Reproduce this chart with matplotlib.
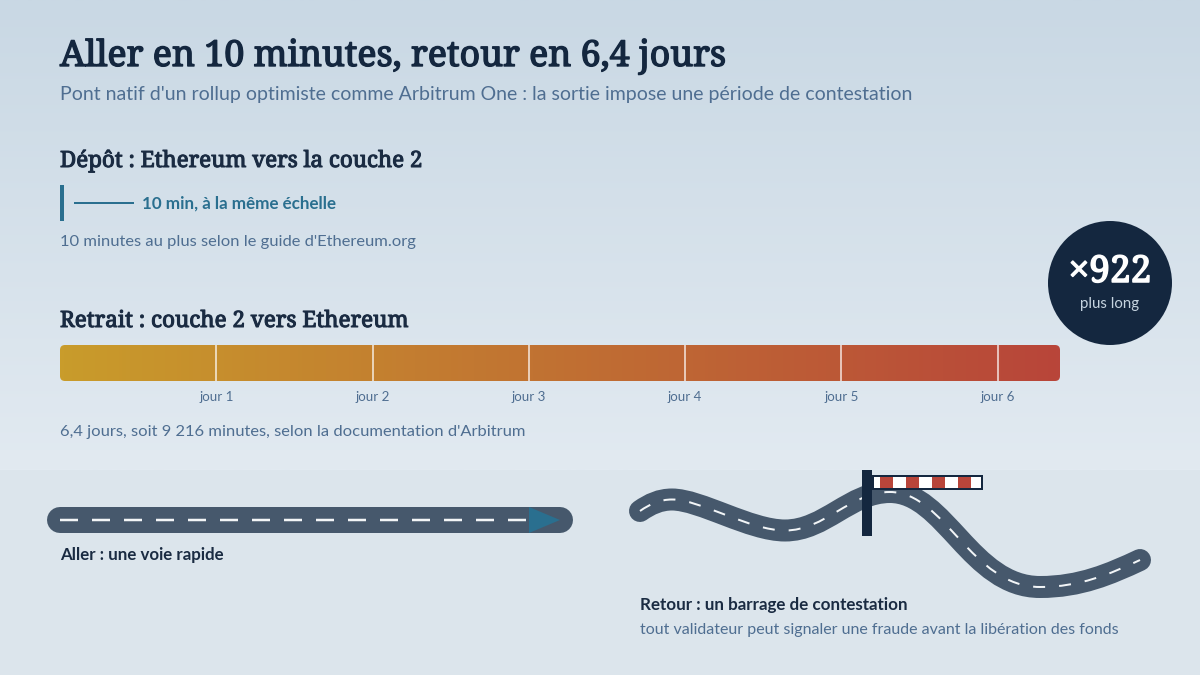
import numpy as np
import matplotlib
matplotlib.use("Agg")
import matplotlib.pyplot as plt
import matplotlib.patheffects as pe
from matplotlib.colors import LinearSegmentedColormap
from matplotlib.patches import FancyBboxPatch, Circle, Rectangle, Polygon, PathPatch
from matplotlib.path import Path

# ---- data ----
title = "Aller en 10 minutes, retour en 6,4 jours"
subtitle = "Pont natif d'un rollup optimiste comme Arbitrum One : la sortie impose une période de contestation"
deposit_head = "Dépôt : Ethereum vers la couche 2"
deposit_label = "10 min, à la même échelle"
deposit_note = "10 minutes au plus selon le guide d'Ethereum.org"
withdraw_head = "Retrait : couche 2 vers Ethereum"
withdraw_note = "6,4 jours, soit 9 216 minutes, selon la documentation d'Arbitrum"
withdraw_days = 6.4
day_ticks = [1, 2, 3, 4, 5, 6]
day_labels = ["jour 1", "jour 2", "jour 3", "jour 4", "jour 5", "jour 6"]
ratio_label = "×922"
ratio_sub = "plus long"
go_label = "Aller : une voie rapide"
back_label = "Retour : un barrage de contestation"
back_note = "tout validateur peut signaler une fraude avant la libération des fonds"

NAVY = "#14273F"; INK = "#1A2B42"; MUTED = "#4F6E91"; TEAL = "#2A6F8F"
ROAD = "#46586C"; RED = "#B8453A"; GOLD = "#C99C2B"

SERIF = "Noto Serif"
SANS = "Lato"
PX = 0.72

fig = plt.figure(figsize=(12, 6.75), dpi=100)
ax = fig.add_axes([0, 0, 1, 1])
ax.set_xlim(0, 1200); ax.set_ylim(675, 0); ax.axis("off")

# backgrounds
bg = LinearSegmentedColormap.from_list("bg", ["#C9D8E4", "#E2EAF1"])
ax.imshow(np.linspace(0, 1, 256)[:, None], cmap=bg, extent=(0, 1200, 470, 0), aspect="auto", zorder=0)
ax.add_patch(Rectangle((0, 470), 1200, 205, fc="#DCE5EC", ec="none", zorder=0))
ax.set_xlim(0, 1200); ax.set_ylim(675, 0)

def T(x, y, s, px, color, fam=SANS, weight="normal", ha="left", va="baseline", z=5, stroke=0):
    t = ax.text(x, y, s, fontsize=px * PX, color=color, family=fam, weight=weight, ha=ha, va=va, zorder=z)
    if stroke:
        t.set_path_effects([pe.withStroke(linewidth=stroke, foreground=color)])
    return t

T(60, 66, title, 35.8, NAVY, SERIF, stroke=1.0)
T(60, 100, subtitle, 19.5, MUTED)
T(60, 167, deposit_head, 22.35, INK, SERIF, stroke=0.75)
ax.add_patch(Rectangle((60, 185), 4, 36, fc=TEAL, ec="none", zorder=3))
ax.plot([74, 134], [203, 203], color=TEAL, lw=2 * PX, solid_capstyle="butt", zorder=3)
T(142, 209, deposit_label, 17.0, TEAL, weight="bold")
T(60, 246, deposit_note, 16.45, MUTED)
T(60, 327, withdraw_head, 22.45, INK, SERIF, stroke=0.75)
T(60, 436, withdraw_note, 16.45, MUTED)

# duration bar
axb = fig.add_axes([60 / 1200, 1 - 381 / 675, 1000 / 1200, 36 / 675])
axb.patch.set_alpha(0)
for s in axb.spines.values():
    s.set_visible(False)
grad = LinearSegmentedColormap.from_list("bar", [GOLD, RED])
im = axb.imshow(np.linspace(0, 1, 256)[None, :], cmap=grad, extent=(0, withdraw_days, 0, 1), aspect="auto")
clip = FancyBboxPatch((60, 345), 1000, 36, boxstyle="round,pad=0,rounding_size=5", transform=ax.transData)
im.set_clip_path(clip)
axb.vlines(day_ticks, 0, 1, color="white", alpha=0.65, lw=2 * PX)
axb.set_xlim(0, withdraw_days); axb.set_ylim(0, 1)
axb.set_yticks([])
axb.set_xticks(day_ticks, day_labels, fontsize=13 * PX + 0.3, color=MUTED, family=SANS)
axb.tick_params(axis="x", length=0, pad=7.4)

# ratio badge
ax.add_patch(Circle((1110, 283), 62, fc=NAVY, ec="none", zorder=6))
bt = ax.text(1110, 282, ratio_label, fontsize=37 * PX, color="white", family=SERIF, ha="center", zorder=7)
bt.set_path_effects([pe.withStroke(linewidth=1.1, foreground="white")])
ax.text(1110, 308, ratio_sub, fontsize=15 * PX, color="#C6D4E0", family=SANS, ha="center", zorder=7)

# straight road
ax.plot([60, 560], [520, 520], color=ROAD, lw=26 * PX, solid_capstyle="round", zorder=2)
ax.plot([60, 527], [520, 520], color="#F2F5F7", lw=2.5 * PX, dashes=(18 / 2.5, 14 / 2.5), dash_capstyle="butt", zorder=3)
ax.add_patch(Polygon([(529, 507), (529, 533), (560, 520)], closed=True, fc=TEAL, ec="none", zorder=4))
T(60, 560, go_label, 16.9, INK, weight="bold")

# winding road
verts = [(640, 511), (650, 504), (660, 499.5), (672, 499.5),
         (700, 499.5), (750, 530.5), (785, 530.5),
         (825, 530.5), (850, 492), (890, 492),
         (945, 492), (971, 587), (1040, 587),
         (1080, 587), (1110, 574), (1140, 560)]
codes = [Path.MOVETO] + [Path.CURVE4] * 15
road = Path(verts, codes)
ax.add_patch(PathPatch(road, fc="none", ec=ROAD, lw=22 * PX, capstyle="round", zorder=2))
ax.add_patch(PathPatch(road, fc="none", ec="#F2F5F7", lw=2 * PX, linestyle=(0, (12 / 2, 14 / 2)), capstyle="butt", zorder=3))

# barrier
ax.add_patch(Rectangle((873, 476), 109, 13, fc="white", ec="none", zorder=4))
for x in [880, 906, 932, 958]:
    ax.add_patch(Rectangle((x, 476), 13, 12.5, fc=RED, ec="none", zorder=5))
ax.add_patch(Rectangle((873, 476), 109, 13, fc="none", ec=NAVY, lw=2 * PX, zorder=5.5))
ax.add_patch(Rectangle((862, 470), 10, 66, fc=NAVY, ec="none", zorder=6))
T(640, 610, back_label, 17.0, INK, weight="bold")
T(640, 634, back_note, 16.0, MUTED)

fig.savefig("out.png", dpi=100)
